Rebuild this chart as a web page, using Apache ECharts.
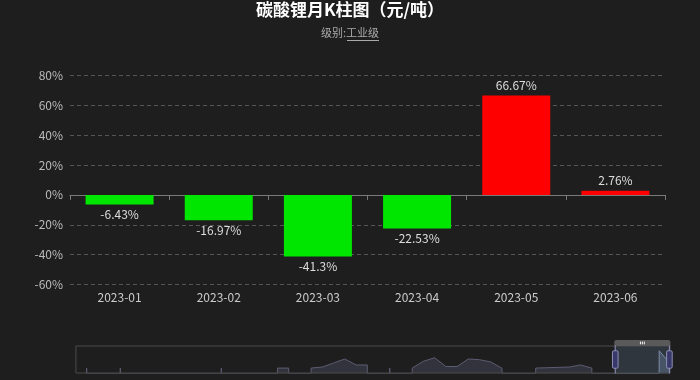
<!DOCTYPE html>
<html>
<head>
<meta charset="utf-8">
<script src="https://cdn.jsdelivr.net/npm/echarts@6/dist/echarts.min.js"></script>
<style>
html,body{margin:0;padding:0;background:#1e1e1e;}
#chart{width:700px;height:380px;}
</style>
</head>
<body>
<div id="chart"></div>
<script>
// Month categories (full history, slider shows last 6)
var months = [
  '2019-01','2019-02','2019-03','2019-04','2019-05','2019-06','2019-07','2019-08','2019-09','2019-10','2019-11','2019-12',
  '2020-01','2020-02','2020-03','2020-04','2020-05','2020-06','2020-07','2020-08','2020-09','2020-10','2020-11','2020-12',
  '2021-01','2021-02','2021-03','2021-04','2021-05','2021-06','2021-07','2021-08','2021-09','2021-10','2021-11','2021-12',
  '2022-01','2022-02','2022-03','2022-04','2022-05','2022-06','2022-07','2022-08','2022-09','2022-10','2022-11','2022-12',
  '2023-01','2023-02','2023-03','2023-04','2023-05','2023-06'
];
// Monthly change (%) shown as bars
var changePct = [
  null,null,null,null,null,null,null,null,null,null,null,null,
  null,null,null,null,null,null,null,null,null,null,null,null,
  null,null,null,null,null,null,null,null,null,null,null,null,
  null,null,null,null,null,null,null,null,null,null,null,null,
  -6.43,-16.97,-41.3,-22.53,66.67,2.76
];
// Values behind the slider's data shadow (read from the overview strip)
var shadowVals = [
  null,1,null,null,1,null,null,null,null,null,null,null,
  null,1,null,null,null,null,1,1,null,1,7,30,
  53,19,19,null,1,null,1,40,60,10,10,53,
  49,36,0,null,null,1,3,5,7,19,1,null,
  null,null,null,null,100,25
];
var yTicks = {min: -60, max: 80, step: 20};

var barData = changePct.map(function (v) {
  if (v == null) return null;
  return {
    value: v,
    itemStyle: {color: v >= 0 ? '#ff0000' : '#00e600'},
    label: {position: v >= 0 ? 'top' : 'bottom'}
  };
});

var chart = echarts.init(document.getElementById('chart'), null, {renderer: 'canvas'});
var font = "'Noto Sans CJK SC', 'Noto Sans', sans-serif";
chart.setOption({
  backgroundColor: '#1e1e1e',
  animation: false,
  textStyle: {fontFamily: font},
  title: [{
    text: '碳酸锂月K柱图（元/吨）',
    left: 'center', top: 1, padding: 0,
    textStyle: {color: '#ffffff', fontSize: 17, fontWeight: 'bold', fontFamily: font}
  }, {
    text: '级别:工业级',
    left: 'center', top: 27, padding: 0,
    textStyle: {color: '#aaaaaa', fontSize: 11, fontWeight: 'normal', fontFamily: font}
  }],
  graphic: [{
    type: 'line', silent: true,
    shape: {x1: 347, y1: 40.5, x2: 379, y2: 40.5},
    style: {stroke: '#aaaaaa', lineWidth: 1}
  }],
  grid: {left: 70, right: 35, top: 75.5, bottom: 95.5, containLabel: false},
  xAxis: [{
    type: 'category', data: months, position: 'bottom',
    axisLine: {show: false, onZero: false},
    axisTick: {show: false},
    axisLabel: {color: '#cccccc', fontSize: 12, margin: 7, fontFamily: font}
  }, {
    type: 'category', data: months, position: 'bottom',
    axisLine: {show: true, onZero: true, onZeroAxisIndex: 0, lineStyle: {color: '#7a7a7a'}},
    axisTick: {show: true, length: 5, lineStyle: {color: '#7a7a7a'}},
    axisLabel: {show: false},
    splitLine: {show: false}
  }],
  yAxis: [{
    type: 'value', min: yTicks.min, max: yTicks.max, interval: yTicks.step,
    axisLine: {show: false}, axisTick: {show: false},
    axisLabel: {formatter: '{value}%', color: '#bbbbbb', fontSize: 12, margin: 7, fontFamily: font},
    splitLine: {lineStyle: {color: '#555555', type: [4, 3]}}
  }, {
    type: 'value', show: false, splitLine: {show: false}
  }],
  dataZoom: [{
    type: 'slider', xAxisIndex: [0, 1], startValue: 48, endValue: 53,
    left: 73, right: 32, bottom: 12, height: 28,
    showDetail: false,
    moveHandleSize: 6,
    borderColor: '#4a4a4a',
    backgroundColor: 'rgba(0,0,0,0)',
    fillerColor: 'rgba(120,150,190,0.2)',
    handleStyle: {color: '#38386a', borderColor: '#9090b8', borderWidth: 1},
    moveHandleStyle: {color: '#5a5a5a', opacity: 1},
    dataBackground: {
      lineStyle: {color: '#5c5c72', width: 1, opacity: 1},
      areaStyle: {color: '#33333d', opacity: 1}
    },
    selectedDataBackground: {
      lineStyle: {color: '#7a8aa2', width: 1, opacity: 1},
      areaStyle: {color: '#3a4450', opacity: 1}
    }
  }],
  series: [{
    name: 'shadow', type: 'line', xAxisIndex: 0, yAxisIndex: 1,
    data: shadowVals, showSymbol: false, silent: true,
    lineStyle: {opacity: 0}, itemStyle: {opacity: 0}, z: 0
  }, {
    name: '涨跌幅', type: 'bar', xAxisIndex: 1, yAxisIndex: 0,
    data: barData, barWidth: 68,
    label: {
      show: true, distance: 4, color: '#dddddd', fontSize: 12, fontFamily: font,
      formatter: function (p) { return p.value + '%'; }
    }
  }]
});
</script>
</body>
</html>
